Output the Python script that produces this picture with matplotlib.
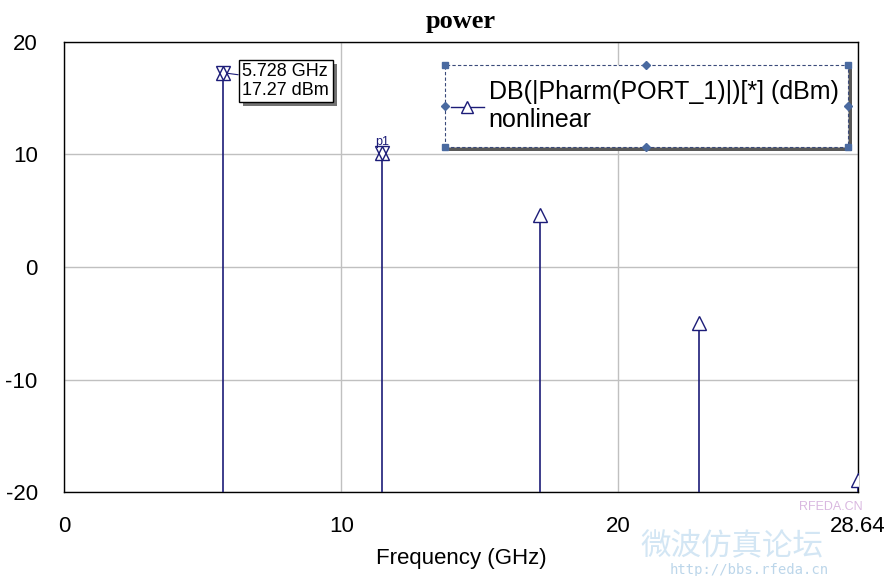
import matplotlib
matplotlib.use("Agg")
import matplotlib.pyplot as plt
import matplotlib.patheffects as pe
from matplotlib.lines import Line2D
from matplotlib.patches import Rectangle
from matplotlib.transforms import ScaledTranslation

# harmonic spectrum
freq = [5.728, 11.456, 17.184, 22.912, 28.64]   # GHz
power = [17.27, 10.1, 4.6, -5.0, -18.9]         # dBm
marked = [0, 1]                                  # harmonics carrying markers
x_ticks = [0, 10, 20, 28.64]
x_ticklabels = ["0", "10", "20", "28.64"]
y_ticks = [-20, -10, 0, 10, 20]
trace_label = "DB(|Pharm(PORT_1)|)[*] (dBm)\nnonlinear"

NAVY = "#1c1c78"
plt.rcParams["font.family"] = ["Liberation Sans", "DejaVu Sans"]
plt.rcParams["axes.unicode_minus"] = False

fig = plt.figure(figsize=(8.87, 5.76), dpi=100)
ax = fig.add_axes([0.0722, 0.1458, 0.8951, 0.7813])
ax.set_xlim(0, 28.64)
ax.set_ylim(-20, 20)

ax.vlines(freq, -20, power, color=NAVY, lw=1.2, zorder=3)
ax.plot(freq, power, ls="none", marker="^", ms=10, mfc="white", mec=NAVY,
        mew=1.0, zorder=4)
ax.plot([freq[i] for i in marked], [power[i] for i in marked], ls="none",
        marker="v", ms=10, mfc="none", mec=NAVY, mew=1.0, zorder=5)

# marker readout box
t = ax.annotate(f"{freq[0]:.3f} GHz\n{power[0]:.2f} dBm", xy=(freq[0], power[0]),
                xytext=(14, -6), textcoords="offset points", fontsize=13,
                linespacing=1.1, va="center", ha="left",
                bbox=dict(boxstyle="square,pad=0.2", fc="white", ec="black", lw=1),
                arrowprops=dict(arrowstyle="-", color=NAVY, lw=0.8,
                                shrinkA=0, shrinkB=4), zorder=6)
t.get_bbox_patch().set_path_effects([pe.withSimplePatchShadow(offset=(3, -3),
                                     shadow_rgbFace="0.45", alpha=1)])
ax.annotate("p1", xy=(freq[1], power[1]), xytext=(-5, 6), textcoords="offset points",
            fontsize=9, color=NAVY, zorder=6)

ax.set_xticks(x_ticks, x_ticklabels)
ax.set_yticks(y_ticks)
ax.tick_params(length=0, labelsize=16)
ax.tick_params(axis="y", pad=19)
ax.tick_params(axis="x", pad=17.5)
ax.grid(color="#c0c0c0", lw=1)
ax.set_axisbelow(True)
for s in ax.spines.values():
    s.set_linewidth(1)
ax.set_xlabel("Frequency (GHz)", fontsize=16, labelpad=8)
ax.set_title("power", fontsize=19, fontweight="bold", family="Liberation Serif", pad=10)

# legend box (axes fractions), with shadow and selection handles
x0, x1, y0, y1 = 0.4798, 0.9874, 0.7667, 0.9489
shadow_tr = ax.transAxes + ScaledTranslation(3 / 72, -3 / 72, fig.dpi_scale_trans)
ax.add_patch(Rectangle((x0, y0), x1 - x0, y1 - y0, transform=shadow_tr,
                       fc="0.35", ec="none", zorder=8, clip_on=False))
ax.add_patch(Rectangle((x0, y0), x1 - x0, y1 - y0, transform=ax.transAxes,
                       fc="white", ec="#3a4a7a", lw=0.8, ls=(0, (3, 2)),
                       zorder=9, clip_on=False))
handle = Line2D([], [], color=NAVY, lw=1, marker="^", ms=9, mfc="white", mec=NAVY)
leg = ax.legend([handle], [trace_label], loc="center left",
                bbox_to_anchor=(0.4875, (y0 + y1) / 2), borderaxespad=0, borderpad=0,
                fontsize=18, handlelength=1.3, handletextpad=0.2, labelspacing=0.2,
                frameon=False)
leg.set_zorder(10)
xm, ym = (x0 + x1) / 2, (y0 + y1) / 2
ax.plot([x0, x1, x0, x1], [y0, y0, y1, y1], ls="none", marker="s", ms=4,
        color="#4a6aa0", transform=ax.transAxes, clip_on=False, zorder=11)
ax.plot([xm, xm, x0, x1], [y0, y1, ym, ym], ls="none", marker="D", ms=4,
        color="#4a6aa0", transform=ax.transAxes, clip_on=False, zorder=11)

# watermark
fig.text(0.825, 0.052, "微波仿真论坛", fontsize=22, color="#d3e6f4",
         family=["Noto Sans CJK SC", "DejaVu Sans"], ha="center", va="center", zorder=0)
fig.text(0.845, 0.011, "http://bbs.rfeda.cn", fontsize=10, color="#bcd6ea",
         family="DejaVu Sans Mono", ha="center", va="center")
fig.text(0.937, 0.120, "RFEDA.CN", fontsize=9, color="#d9b8e0", ha="center", va="center")

fig.savefig("out.png", dpi=100)
